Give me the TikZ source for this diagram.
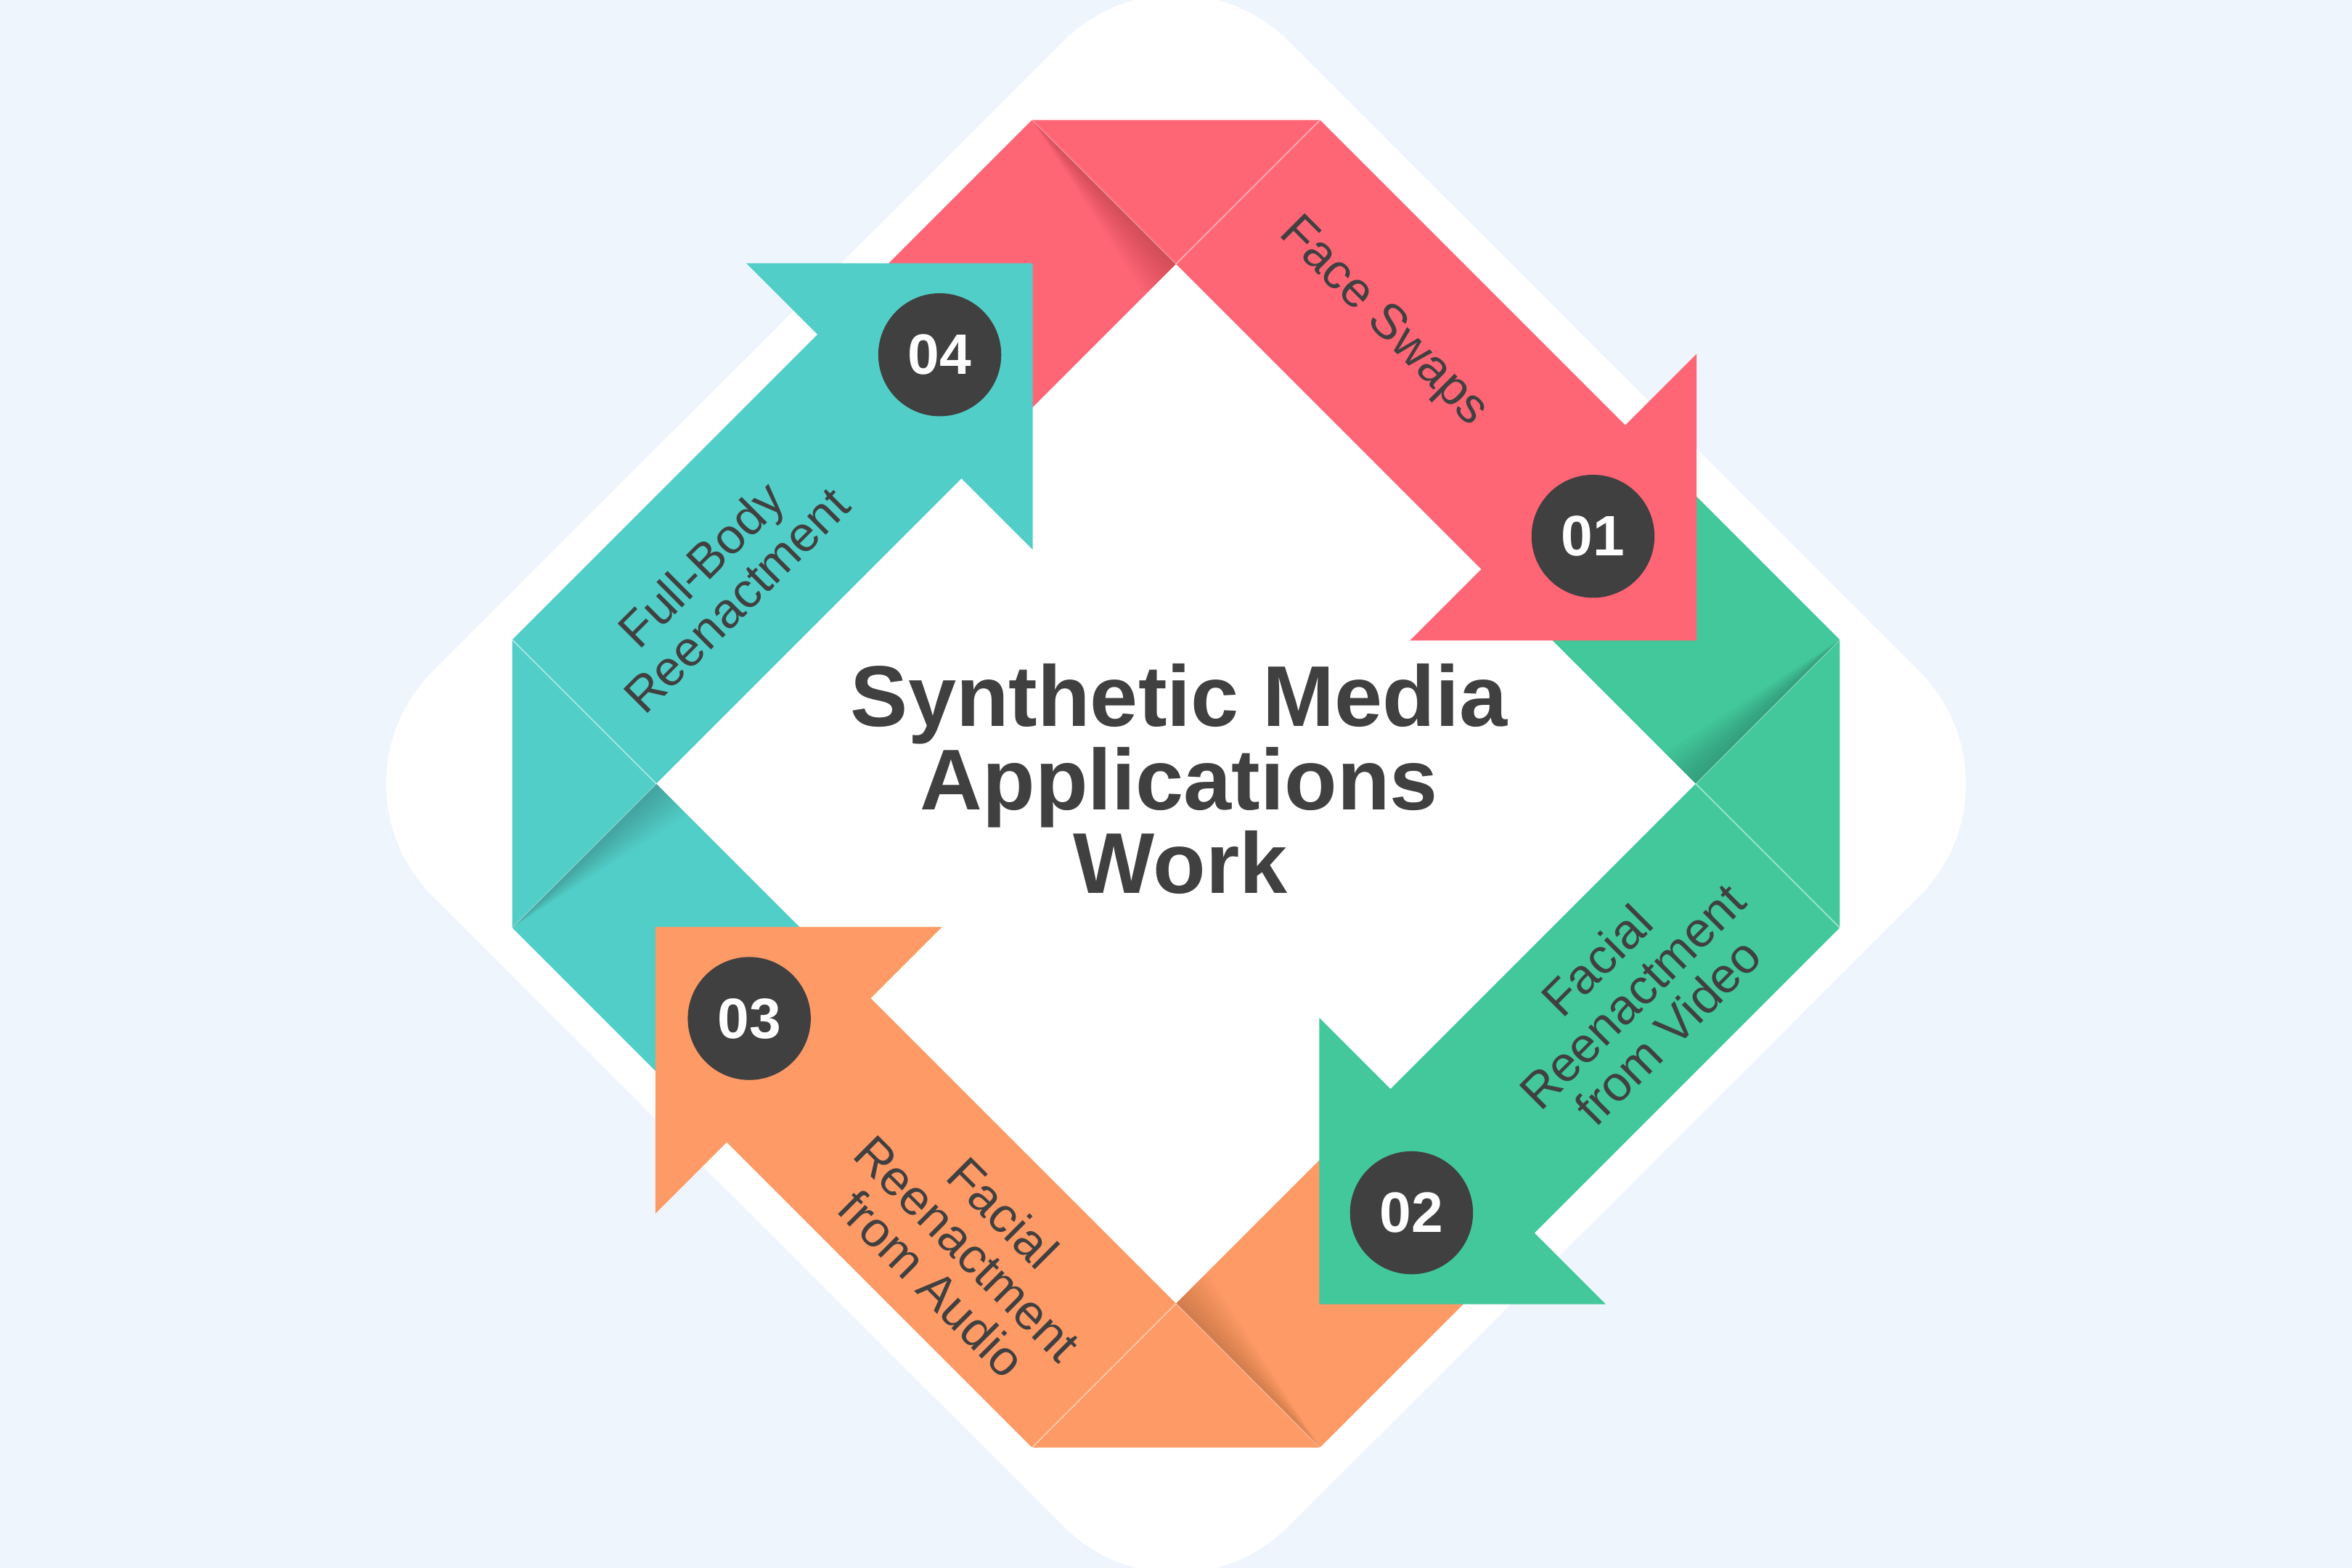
\documentclass[tikz,border=0pt]{standalone}
\usepackage{fontspec}
\setmainfont{Liberation Sans}
\definecolor{bgc}{HTML}{EFF5FD}
\definecolor{cred}{HTML}{FE6675}
\definecolor{cgreen}{HTML}{42C89A}
\definecolor{corange}{HTML}{FE9A66}
\definecolor{cteal}{HTML}{52CEC8}
\definecolor{cdark}{HTML}{404040}
\newcommand{\ribbonflap}[2]{%
  \begin{scope}[rotate around={#1:(784,522.5)}]
    \fill[#2] (688,80) -- (784,176) -- (670,290) -- (574,194) -- cycle;
    \foreach \k in {1,...,15}{%
      \fill[black, fill opacity=0.012] (688,80) -- (784,176) -- ({784-1.4*\k},{176+1.4*\k}) -- cycle;}
  \end{scope}}
\newcommand{\ribbonmain}[2]{%
  \begin{scope}[rotate around={#1:(784,522.5)}]
    \fill[#2] (688,80) -- (880,80) -- (1083.5,283.5) -- (1131,236) -- (1131,427) -- (940,427) -- (987.5,379.5) -- (784,176) -- cycle;
    \draw[foldline] (784,176) -- (880,80);
    \draw[foldline, opacity=0.25] (688,80) -- (784,176);
  \end{scope}}
\begin{document}
\begin{tikzpicture}[x=1pt, y=-1pt,
  foldline/.style={white, line width=0.8pt, opacity=0.5},
  lbl/.style={text=cdark, align=center, inner sep=0pt, font=\fontsize{33}{33.5}\selectfont},
  numc/.style={circle, fill=cdark, minimum size=82pt, inner sep=0pt, text=white, font=\fontsize{38}{38}\selectfont\bfseries},
  ttl/.style={text=cdark, anchor=base, inner sep=0pt, font=\fontsize{57.5}{55.5}\selectfont\bfseries}]
\useasboundingbox (0,0) rectangle (1568,1045.33);
\clip (0,0) rectangle (1568,1045.33);
\fill[bgc] (0,0) rectangle (1568,1045.33);
% white rounded diamond
\fill[white, rounded corners=106pt] (498.75,237.5) -- (784,-47.5) -- (1354.5,522.5) -- (784,1092.5) -- (213.5,522.5) -- cycle;
% flaps (under the heads of the previous arrows)
\ribbonflap{0}{cred}
\ribbonflap{-90}{cgreen}
\ribbonflap{-180}{corange}
\ribbonflap{90}{cteal}
% main ribbons
\ribbonmain{0}{cred}
\ribbonmain{-90}{cgreen}
\ribbonmain{-180}{corange}
\ribbonmain{90}{cteal}
% numbers
\node[numc] (n1) at (1062,357.5) {01};
\node[numc] (n2) at (941,808.5) {02};
\node[numc] (n3) at (499.5,679) {03};
\node[numc] (n4) at (626.5,236.5) {04};
% labels
\node[lbl, rotate=-45] (l1) at (922,215) {Face Swaps};
\node[lbl, rotate=45] (l2) at (1088,664) {Facial\\Reenactment\\from Video};
\node[lbl, rotate=-45] (l3) at (645,832) {Facial\\Reenactment\\from Audio};
\node[lbl, rotate=45] (l4) at (479,388) {Full-Body\\Reenactment};
% title
\node[ttl] (t1) at (786,484.3) {Synthetic Media};
\node[ttl] (t2) at (786,540) {Applications};
\node[ttl] (t3) at (787,595.3) {Work};
\end{tikzpicture}
\end{document}
